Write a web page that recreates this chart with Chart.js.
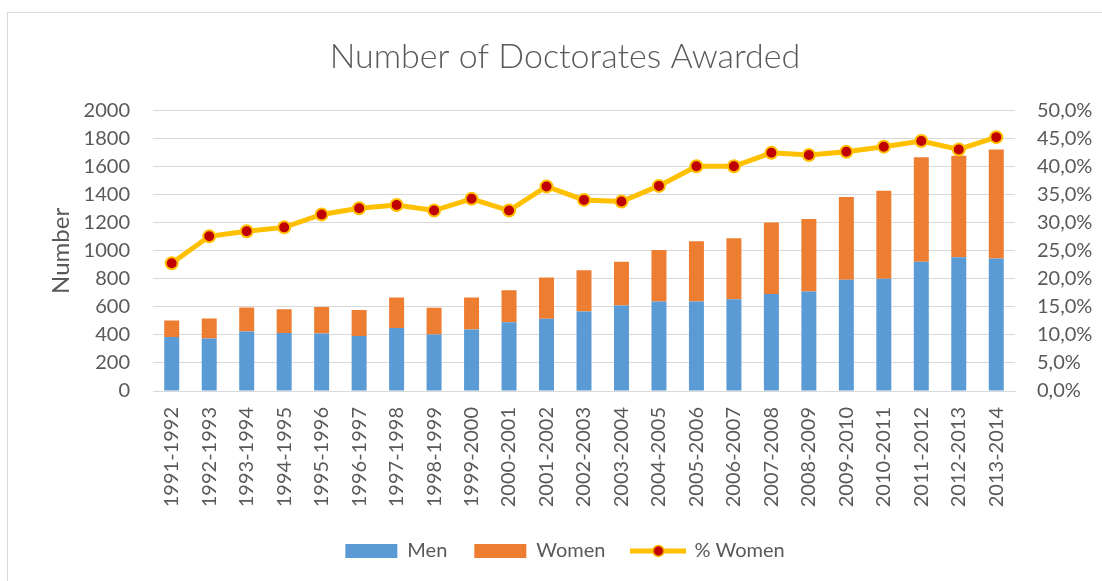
<!DOCTYPE html>
<html>
<head>
<meta charset="utf-8">
<script src="https://cdn.jsdelivr.net/npm/chart.js@4"></script>
<style>
  html, body { margin: 0; padding: 0; background: #fff; }
  #wrap { position: relative; width: 1102px; height: 581px; overflow: hidden; }
  #frame { position: absolute; left: 7px; top: 12px; width: 1200px; height: 700px; border: 1px solid #d9d9d9; }
  canvas { position: absolute; left: 0; top: 0; }
</style>
</head>
<body>
<div id="wrap">
  <div id="frame"></div>
  <canvas id="chart" width="1102" height="581"></canvas>
</div>
<script>
// values
const years = ["1991-1992", "1992-1993", "1993-1994", "1994-1995", "1995-1996", "1996-1997",
  "1997-1998", "1998-1999", "1999-2000", "2000-2001", "2001-2002", "2002-2003", "2003-2004",
  "2004-2005", "2005-2006", "2006-2007", "2007-2008", "2008-2009", "2009-2010", "2010-2011",
  "2011-2012", "2012-2013", "2013-2014"];
const men = [386, 374, 424, 414, 410, 393, 450, 403, 439, 491, 515, 568, 611,
  639, 639, 654, 692, 711, 794, 801, 923, 955, 945];
const women = [117, 143, 172, 170, 189, 186, 218, 191, 229, 229, 296, 293, 312,
  368, 430, 437, 511, 516, 591, 629, 746, 724, 779];
const pctWomen = [22.8, 27.6, 28.5, 29.2, 31.5, 32.6, 33.2, 32.2, 34.3, 32.2, 36.5, 34.1, 33.8,
  36.6, 40.1, 40.1, 42.5, 42.1, 42.7, 43.6, 44.6, 43.1, 45.3];

const FONT = "Lato, 'Open Sans', sans-serif";
const GREY = '#595959';

// little line-with-dot picture for the "% Women" legend entry
const lineIcon = document.createElement('canvas');
lineIcon.width = 56;
lineIcon.height = 16;
(function () {
  const c = lineIcon.getContext('2d');
  c.strokeStyle = '#FFC000';
  c.lineWidth = 5;
  c.beginPath();
  c.moveTo(0, 8);
  c.lineTo(56, 8);
  c.stroke();
  c.beginPath();
  c.arc(28, 8, 5.5, 0, Math.PI * 2);
  c.fillStyle = '#C00000';
  c.fill();
  c.lineWidth = 1.5;
  c.stroke();
})();

new Chart(document.getElementById('chart'), {
  type: 'bar',
  data: {
    labels: years,
    datasets: [
      {
        label: 'Men',
        data: men,
        backgroundColor: '#5B9BD5',
        borderWidth: 0,
        yAxisID: 'y',
        order: 1
      },
      {
        label: 'Women',
        data: women,
        backgroundColor: '#ED7D31',
        borderWidth: 0,
        yAxisID: 'y',
        order: 1
      },
      {
        type: 'line',
        label: '% Women',
        data: pctWomen,
        yAxisID: 'y1',
        borderColor: '#FFC000',
        borderWidth: 5,
        pointRadius: 6,
        pointBorderWidth: 2,
        pointBackgroundColor: '#C00000',
        pointBorderColor: '#FFC000',
        tension: 0,
        order: 0
      }
    ]
  },
  options: {
    responsive: false,
    animation: false,
    layout: { padding: { left: 28, right: 0, top: 0, bottom: 10 } },
    datasets: {
      bar: { categoryPercentage: 1, barPercentage: 0.4 }
    },
    plugins: {
      title: {
        display: true,
        text: 'Number of Doctorates Awarded',
        color: GREY,
        font: { family: FONT, size: 34, weight: '300' },
        padding: { top: 37, bottom: 33 }
      },
      legend: {
        position: 'bottom',
        labels: {
          color: GREY,
          font: { family: FONT, size: 20 },
          usePointStyle: true,
          pointStyleWidth: 52,
          boxHeight: 14,
          padding: 27,
          sort: (a, b) => a.datasetIndex - b.datasetIndex,
          generateLabels(chart) {
            const items = Chart.defaults.plugins.legend.labels.generateLabels(chart);
            items.forEach(it => {
              it.lineWidth = 0;
              it.pointStyle = it.datasetIndex === 2 ? lineIcon : 'rect';
            });
            return items;
          }
        }
      },
      tooltip: { enabled: false }
    },
    scales: {
      x: {
        stacked: true,
        grid: { display: false, drawTicks: false },
        border: { display: true, color: '#d9d9d9', width: 1 },
        ticks: {
          color: GREY,
          font: { family: FONT, size: 20 },
          minRotation: 90,
          maxRotation: 90,
          padding: 16,
          autoSkip: false
        },
        afterFit(scale) { scale.height = 123; }
      },
      y: {
        stacked: true,
        position: 'left',
        min: 0,
        max: 2000,
        grid: { color: '#d9d9d9', lineWidth: 1, drawTicks: false },
        border: { display: false },
        ticks: {
          stepSize: 200,
          color: GREY,
          font: { family: FONT, size: 20 },
          padding: 23,
          callback: v => String(v)
        },
        title: {
          display: true,
          text: 'Number',
          color: GREY,
          font: { family: FONT, size: 24 },
          padding: { top: 19, bottom: 0 }
        },
        afterFit(scale) { scale.width = 125; }
      },
      y1: {
        position: 'right',
        min: 0,
        max: 50,
        grid: { display: false, drawTicks: false },
        border: { display: false },
        ticks: {
          stepSize: 5,
          color: GREY,
          font: { family: FONT, size: 20 },
          padding: 22,
          callback: v => v.toFixed(1).replace('.', ',') + '%'
        },
        afterFit(scale) { scale.width = 87; }
      }
    }
  }
});
</script>
</body>
</html>
